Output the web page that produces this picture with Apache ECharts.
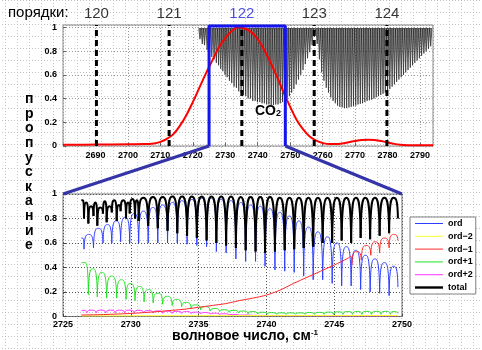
<!DOCTYPE html>
<html><head><meta charset="utf-8">
<script src="https://cdn.jsdelivr.net/npm/echarts/dist/echarts.min.js"></script>
<style>
html,body{margin:0;padding:0;background:#fff;}
#c{width:482px;height:350px;
  background-image:url("data:image/svg+xml,%3Csvg xmlns='http://www.w3.org/2000/svg' width='12' height='12'%3E%3Cg fill='%23c4c4c4'%3E%3Crect x='0' y='0' width='1' height='1'/%3E%3Crect x='3' y='0' width='1' height='1'/%3E%3Crect x='6' y='0' width='1' height='1'/%3E%3Crect x='9' y='0' width='1' height='1'/%3E%3Crect x='0' y='3' width='1' height='1'/%3E%3Crect x='0' y='6' width='1' height='1'/%3E%3Crect x='0' y='9' width='1' height='1'/%3E%3C/g%3E%3C/svg%3E");
  background-position:5px 0;}
</style></head><body><div id="c"></div>
<script>
// ---------- top panel: filter transmission + CO2 absorption ----------
const orderNums = [120, 121, 122, 123, 124];
const orderPos  = [2690.3, 2712.7, 2735.1, 2757.4, 2779.8];
const zoomRange = [2725, 2748.5];

const filterX = [2680, 2690, 2700, 2705, 2708, 2710, 2712, 2714, 2716, 2718, 2720, 2722, 2724, 2726, 2728, 2730, 2732, 2734, 2736, 2738, 2740, 2742, 2744, 2746, 2748, 2750, 2752, 2754, 2756, 2758, 2760, 2762, 2764, 2766, 2768, 2770, 2772, 2774, 2776, 2778, 2780, 2782, 2784, 2786, 2790, 2794];
const filterY = [0.01, 0.012, 0.015, 0.016, 0.022, 0.035, 0.06, 0.1, 0.17, 0.26, 0.37, 0.49, 0.61, 0.72, 0.83, 0.91, 0.97, 1.0, 0.99, 0.96, 0.9, 0.81, 0.7, 0.58, 0.45, 0.33, 0.22, 0.14, 0.08, 0.045, 0.025, 0.016, 0.016, 0.022, 0.032, 0.042, 0.05, 0.053, 0.05, 0.042, 0.03, 0.018, 0.01, 0.007, 0.007, 0.007];

// CO2 line centres and the transmission at each line core
const co2X = [2722.2, 2722.9, 2723.6, 2724.4, 2725.1, 2725.85, 2726.55, 2727.25, 2727.95, 2728.6, 2729.25, 2729.92, 2730.58, 2731.28, 2731.99, 2732.71, 2733.43, 2734.15, 2734.87, 2735.59, 2736.31, 2737.03, 2737.75, 2738.47, 2739.2, 2739.9, 2740.63, 2741.35, 2742.05, 2742.75, 2743.45, 2744.15, 2744.85, 2745.55, 2746.25, 2746.95, 2747.65, 2748.35, 2749.05, 2749.75, 2750.45, 2751.15, 2751.85, 2752.55, 2753.25, 2753.95, 2754.65, 2755.35, 2756.05, 2756.75, 2757.45, 2758.3, 2759.0, 2759.7, 2760.4, 2761.1, 2761.8, 2762.5, 2763.2, 2763.9, 2764.6, 2765.3, 2766.0, 2766.7, 2767.4, 2768.1, 2768.8, 2769.5, 2770.2, 2770.9, 2771.6, 2772.3, 2773.0, 2773.7, 2774.4, 2775.1, 2775.8, 2776.5, 2777.2, 2777.9, 2778.6, 2779.3, 2780.0, 2780.7, 2781.4, 2782.1, 2782.8, 2783.5, 2784.2, 2784.9, 2785.6, 2786.3, 2787.0, 2787.7, 2788.4, 2789.1, 2789.8, 2790.5, 2791.2, 2791.9, 2792.6, 2793.3];
const co2Core = [0.9, 0.86, 0.85, 0.81, 0.79, 0.75, 0.73, 0.7, 0.68, 0.65, 0.63, 0.6, 0.58, 0.55, 0.53, 0.5, 0.49, 0.46, 0.45, 0.43, 0.42, 0.4, 0.4, 0.38, 0.38, 0.37, 0.37, 0.36, 0.36, 0.35, 0.35, 0.345, 0.345, 0.35, 0.35, 0.36, 0.37, 0.38, 0.4, 0.42, 0.45, 0.48, 0.52, 0.56, 0.6, 0.64, 0.69, 0.74, 0.79, 0.85, 0.92, 0.86, 0.73, 0.62, 0.55, 0.49, 0.45, 0.41, 0.38, 0.36, 0.34, 0.33, 0.325, 0.32, 0.32, 0.325, 0.33, 0.335, 0.34, 0.35, 0.355, 0.36, 0.37, 0.38, 0.385, 0.39, 0.4, 0.41, 0.42, 0.43, 0.44, 0.45, 0.46, 0.48, 0.5, 0.52, 0.54, 0.56, 0.58, 0.6, 0.62, 0.64, 0.66, 0.68, 0.7, 0.72, 0.74, 0.76, 0.78, 0.8, 0.82, 0.84];
const co2Continuum = 0.99;

// ---------- bottom panel: per-order transmission ----------
// each series: sample positions (start, line cores, end), values there, arch tops between them
const ordX = [2726.35, 2726.55, 2727.25, 2727.95, 2728.6, 2729.25, 2729.92, 2730.58, 2731.28, 2731.99, 2732.71, 2733.43, 2734.15, 2734.87, 2735.59, 2736.31, 2737.03, 2737.75, 2738.47, 2739.2, 2739.9, 2740.63, 2741.35, 2742.05, 2742.75, 2743.45, 2744.15, 2744.85, 2745.55, 2746.25, 2746.95, 2747.65, 2748.35, 2749.05, 2749.7];
const ordY = [0.64, 0.55, 0.56, 0.6, 0.6, 0.61, 0.6, 0.6, 0.6, 0.6, 0.6, 0.6, 0.59, 0.58, 0.57, 0.53, 0.52, 0.47, 0.45, 0.45, 0.41, 0.38, 0.37, 0.36, 0.33, 0.3, 0.3, 0.27, 0.25, 0.25, 0.22, 0.2, 0.19, 0.17, 0.24];
const ordTop = [0.64, 0.67, 0.72, 0.75, 0.78, 0.81, 0.84, 0.86, 0.89, 0.91, 0.93, 0.945, 0.955, 0.965, 0.965, 0.955, 0.945, 0.93, 0.91, 0.9, 0.88, 0.85, 0.82, 0.78, 0.73, 0.69, 0.65, 0.6, 0.57, 0.54, 0.5, 0.47, 0.44, 0.41];

const totX = [2726.35, 2726.55, 2726.87, 2727.25, 2727.53, 2727.95, 2728.22, 2728.6, 2728.96, 2729.25, 2729.65, 2729.92, 2730.31, 2730.58, 2731.28, 2731.99, 2732.71, 2733.43, 2734.15, 2734.87, 2735.59, 2736.31, 2737.03, 2737.75, 2738.47, 2739.2, 2739.9, 2740.63, 2741.35, 2742.05, 2742.75, 2743.45, 2744.15, 2744.85, 2745.55, 2746.25, 2746.95, 2747.65, 2748.35, 2749.05, 2749.7];
const totY = [0.95, 0.8, 0.76, 0.82, 0.74, 0.84, 0.77, 0.85, 0.78, 0.86, 0.8, 0.84, 0.8, 0.78, 0.74, 0.72, 0.7, 0.68, 0.66, 0.64, 0.62, 0.6, 0.58, 0.56, 0.54, 0.53, 0.52, 0.53, 0.54, 0.55, 0.56, 0.57, 0.6, 0.6, 0.62, 0.6, 0.64, 0.63, 0.66, 0.68, 0.8];
const totTop = [0.95, 0.93, 0.9, 0.93, 0.89, 0.94, 0.9, 0.95, 0.91, 0.95, 0.93, 0.96, 0.95, 0.97, 0.975, 0.975, 0.98, 0.98, 0.98, 0.98, 0.98, 0.98, 0.98, 0.975, 0.975, 0.975, 0.975, 0.97, 0.97, 0.97, 0.97, 0.97, 0.97, 0.97, 0.97, 0.97, 0.97, 0.97, 0.97, 0.97];

const p1X = [2726.35, 2726.87, 2727.53, 2728.22, 2728.96, 2729.65, 2730.31, 2730.98, 2731.65, 2732.35, 2733.05, 2733.75, 2734.45, 2735.15, 2735.85, 2736.55, 2737.25, 2737.95, 2738.65, 2739.35, 2740.05, 2740.75, 2741.45, 2742.15, 2742.85, 2743.55, 2744.25, 2744.95, 2745.65, 2746.35, 2747.05, 2747.75, 2748.45, 2749.15, 2749.7];
const p1Y = [0.44, 0.18, 0.16, 0.15, 0.15, 0.14, 0.13, 0.12, 0.11, 0.1, 0.09, 0.08, 0.065, 0.055, 0.045, 0.04, 0.035, 0.03, 0.022, 0.02, 0.018, 0.018, 0.018, 0.018, 0.018, 0.018, 0.018, 0.018, 0.018, 0.018, 0.018, 0.018, 0.018, 0.018, 0.025];
const p1Top = [0.44, 0.39, 0.36, 0.33, 0.3, 0.27, 0.245, 0.22, 0.19, 0.165, 0.14, 0.115, 0.095, 0.08, 0.065, 0.055, 0.05, 0.045, 0.04, 0.035, 0.032, 0.03, 0.03, 0.03, 0.032, 0.034, 0.036, 0.038, 0.04, 0.04, 0.042, 0.042, 0.042, 0.04];

const p2X = [2726.35, 2726.75, 2727.45, 2728.15, 2728.85, 2729.55, 2730.25, 2730.95, 2731.65, 2732.35, 2733.05, 2733.75, 2734.45, 2735.15, 2735.85, 2736.55, 2737.25, 2738.0, 2739.0, 2740.0, 2742.0, 2744.0, 2746.0, 2748.0, 2749.7];
const p2Y = [0.045, 0.03, 0.03, 0.03, 0.03, 0.03, 0.03, 0.029, 0.028, 0.027, 0.026, 0.025, 0.024, 0.022, 0.019, 0.016, 0.013, 0.01, 0.008, 0.007, 0.006, 0.006, 0.006, 0.006, 0.006];
const p2Top = [0.05, 0.052, 0.052, 0.052, 0.052, 0.052, 0.05, 0.048, 0.046, 0.044, 0.042, 0.04, 0.036, 0.032, 0.027, 0.022, 0.017, 0.012, 0.009, 0.008, 0.007, 0.006, 0.006, 0.006];

const m1SmoothX = [2726.35, 2728, 2730, 2732, 2733, 2734, 2735, 2736, 2737, 2738, 2739, 2740, 2741, 2742, 2743, 2744, 2745, 2746, 2746.2];
const m1SmoothY = [0.012, 0.016, 0.025, 0.04, 0.05, 0.06, 0.075, 0.09, 0.105, 0.13, 0.15, 0.175, 0.215, 0.27, 0.32, 0.37, 0.42, 0.475, 0.49];
const m1X = [2746.2, 2746.3, 2747.0, 2747.7, 2748.35, 2749.05, 2749.7];
const m1Y = [0.49, 0.42, 0.46, 0.5, 0.52, 0.56, 0.62];
const m1Top = [0.49, 0.53, 0.58, 0.61, 0.64, 0.67];

const m2X = [2726.35, 2735, 2749.7];
const m2Y = [0.005, 0.007, 0.008];

const FONT = 'Liberation Sans, Arial, sans-serif';
const C_ORD = '#2b3dff', C_M2 = '#ffff33', C_M1 = '#ff2a2a', C_P1 = '#22e022', C_P2 = '#ff33ff', C_TOT = '#000';

function zipPairs(xs, ys) { return xs.map((x, i) => [x, ys[i]]); }
function archItems(xs, ys, tops) {
  const out = [];
  for (let i = 0; i < xs.length - 1; i++) out.push([xs[i], ys[i], tops[i], xs[i + 1], ys[i + 1]]);
  return out;
}
// one arch between two line cores: steep walls, rounded top
function renderArch(params, api) {
  const a = api.coord([api.value(0), api.value(1)]);
  const b = api.coord([api.value(3), api.value(4)]);
  const t = api.coord([api.value(0), api.value(2)])[1];
  const w = b[0] - a[0], xm = (a[0] + b[0]) / 2;
  const d = 'M' + a[0] + ',' + a[1] +
    ' C' + (a[0] + 0.04 * w) + ',' + t + ' ' + (xm - 0.22 * w) + ',' + t + ' ' + xm + ',' + t +
    ' C' + (xm + 0.22 * w) + ',' + t + ' ' + (b[0] - 0.04 * w) + ',' + t + ' ' + b[0] + ',' + b[1];
  return { type: 'path', shape: { pathData: d },
    style: { stroke: api.visual('color'), fill: 'none', lineWidth: params.seriesName === 'total' ? 2 : 1 } };
}
// one CO2 absorption line drawn as a narrow V hanging from the continuum
function renderLine(params, api) {
  const c = api.value(0), d = api.value(1);
  const pts = [api.coord([c - 0.36, co2Continuum]), api.coord([c, d]), api.coord([c + 0.36, co2Continuum])];
  return { type: 'polygon', shape: { points: pts },
    style: { stroke: '#111', lineWidth: 0.6, fill: 'rgba(70,70,70,0.6)' } };
}

const axisLbl = { color: '#000', fontFamily: FONT, fontWeight: 'bold', fontSize: 9, formatter: v => String(+v.toFixed(2)) };
const dotted = (c) => ({ show: true, lineStyle: { color: c, type: [1, 2], width: 1 } });

const orderLineData = [];
orderPos.forEach(x => { orderLineData.push([x, 0], [x, 1.02], '-'); });

const chart = echarts.init(document.getElementById('c'), null, { renderer: 'canvas' });
chart.setOption({
  animation: false,
  backgroundColor: 'transparent',
  grid: [
    { left: 63, top: 25, width: 370, height: 121, show: true, borderColor: '#8c8c8c', borderWidth: 1, backgroundColor: 'transparent' },
    { left: 63, top: 194, width: 339, height: 122.5, show: true, borderColor: '#7a7a7a', borderWidth: 1, backgroundColor: 'transparent' }
  ],
  xAxis: [
    { type: 'value', gridIndex: 0, min: 2680, max: 2794, interval: 10,
      axisLine: { show: false }, axisTick: { inside: true, length: 3, lineStyle: { color: '#666' } },
      axisLabel: Object.assign({}, axisLbl, { margin: 5, showMinLabel: false, showMaxLabel: false }),
      splitLine: dotted('#9a9a9a') },
    { type: 'value', gridIndex: 1, min: 2725, max: 2750, interval: 5,
      axisLine: { show: false }, axisTick: { inside: true, length: 3, lineStyle: { color: '#444' } },
      axisLabel: Object.assign({}, axisLbl, { margin: 4 }),
      splitLine: dotted('#555') }
  ],
  yAxis: [
    { type: 'value', gridIndex: 0, min: 0, max: 1.02, interval: 0.2,
      axisLine: { show: false }, axisTick: { inside: true, length: 3, lineStyle: { color: '#666' } },
      axisLabel: Object.assign({}, axisLbl, { margin: 6, showMaxLabel: false }),
      splitLine: dotted('#9a9a9a') },
    { type: 'value', gridIndex: 1, min: 0, max: 1, interval: 0.2,
      axisLine: { show: false }, axisTick: { inside: true, length: 3, lineStyle: { color: '#444' } },
      axisLabel: Object.assign({}, axisLbl, { margin: 6 }),
      splitLine: dotted('#555') }
  ],
  legend: {
    orient: 'vertical', left: 410, top: 217, padding: [1, 3, 1, 5],
    itemWidth: 28, itemHeight: 10, itemGap: 1.8,
    backgroundColor: '#fff', borderColor: '#808080', borderWidth: 1,
    textStyle: { fontFamily: FONT, fontWeight: 'bold', fontSize: 9, color: '#000', lineHeight: 11 },
    data: [
      { name: 'ord', icon: 'path://M0,0H28V1H0Z' },
      { name: 'ord−2', icon: 'path://M0,0H28V1H0Z' },
      { name: 'ord−1', icon: 'path://M0,0H28V1H0Z' },
      { name: 'ord+1', icon: 'path://M0,0H28V1H0Z' },
      { name: 'ord+2', icon: 'path://M0,0H28V1H0Z' },
      { name: 'total', icon: 'path://M0,0H28V2.4H0Z' }
    ]
  },
  series: [
    // top panel
    { type: 'custom', xAxisIndex: 0, yAxisIndex: 0, renderItem: renderLine, data: zipPairs(co2X, co2Core), z: 2, silent: true },
    { type: 'line', xAxisIndex: 0, yAxisIndex: 0, data: zipPairs(filterX, filterY), smooth: 0.4, showSymbol: false,
      lineStyle: { color: '#ff0000', width: 2 }, z: 3 },
    { type: 'line', xAxisIndex: 0, yAxisIndex: 0, data: orderLineData, showSymbol: false, connectNulls: false,
      lineStyle: { color: '#000', width: 3, type: [6, 4] }, z: 4 },
    { type: 'scatter', xAxisIndex: 0, yAxisIndex: 0, symbolSize: 1, itemStyle: { color: 'rgba(0,0,0,0)' },
      data: orderPos.map((x, i) => ({ value: [x, 1.02],
        label: { show: true, position: 'top', distance: 3, formatter: String(orderNums[i]),
          color: orderNums[i] === 122 ? '#2222dd' : '#000', fontFamily: FONT, fontSize: 15 } })), z: 5 },
    { type: 'line', xAxisIndex: 0, yAxisIndex: 0, showSymbol: false,
      data: [[zoomRange[0], 0], [zoomRange[0], 1.011], [zoomRange[1], 1.011], [zoomRange[1], 0]],
      lineStyle: { color: '#1414f0', width: 3 }, z: 6 },
    // bottom panel
    { name: 'ord', type: 'custom', xAxisIndex: 1, yAxisIndex: 1, renderItem: renderArch,
      itemStyle: { color: C_ORD }, data: archItems(ordX, ordY, ordTop), z: 3 },
    { name: 'ord−2', type: 'line', xAxisIndex: 1, yAxisIndex: 1, showSymbol: false,
      itemStyle: { color: C_M2 }, lineStyle: { color: C_M2, width: 1 }, data: zipPairs(m2X, m2Y), z: 3 },
    { name: 'ord−1', type: 'line', xAxisIndex: 1, yAxisIndex: 1, showSymbol: false, smooth: 0.3,
      itemStyle: { color: C_M1 }, lineStyle: { color: C_M1, width: 1 }, data: zipPairs(m1SmoothX, m1SmoothY), z: 3 },
    { name: 'ord−1', type: 'custom', xAxisIndex: 1, yAxisIndex: 1, renderItem: renderArch,
      itemStyle: { color: C_M1 }, data: archItems(m1X, m1Y, m1Top), z: 3 },
    { name: 'ord+1', type: 'custom', xAxisIndex: 1, yAxisIndex: 1, renderItem: renderArch,
      itemStyle: { color: C_P1 }, data: archItems(p1X, p1Y, p1Top), z: 3 },
    { name: 'ord+2', type: 'custom', xAxisIndex: 1, yAxisIndex: 1, renderItem: renderArch,
      itemStyle: { color: C_P2 }, data: archItems(p2X, p2Y, p2Top), z: 3 },
    { name: 'total', type: 'custom', xAxisIndex: 1, yAxisIndex: 1, renderItem: renderArch,
      itemStyle: { color: C_TOT }, data: archItems(totX, totY, totTop), z: 4 }
  ]
});

// static texts and the zoom connectors (through the axes' own scales)
const a0 = chart.convertToPixel({ xAxisIndex: 0, yAxisIndex: 0 }, [zoomRange[0], 0]);
const a1 = chart.convertToPixel({ xAxisIndex: 0, yAxisIndex: 0 }, [zoomRange[1], 0]);
const b0 = chart.convertToPixel({ xAxisIndex: 1, yAxisIndex: 1 }, [2725, 1]);
const b1 = chart.convertToPixel({ xAxisIndex: 1, yAxisIndex: 1 }, [2750, 1]);
chart.setOption({
  graphic: [
    { type: 'line', shape: { x1: a0[0], y1: a0[1], x2: b0[0], y2: b0[1] }, style: { stroke: '#3434a8', lineWidth: 3 }, z: 50 },
    { type: 'line', shape: { x1: a1[0], y1: a1[1], x2: b1[0], y2: b1[1] }, style: { stroke: '#3434a8', lineWidth: 3 }, z: 50 },
    { type: 'text', left: 8, top: 5, style: { text: 'порядки:', font: '15px ' + FONT, fill: '#000' } },
    { type: 'text', left: 25, top: 92, style: { text: 'п\nр\nо\nп\nу\nс\nк\nа\nн\nи\nе', font: 'bold 14px ' + FONT,
      fill: '#000', lineHeight: 14.6, align: 'center' } },
    { type: 'text', left: 255, top: 104, style: { text: '{a|CO}{b|2}', rich: {
      a: { font: 'bold 14px ' + FONT, fill: '#000' }, b: { font: 'bold 9px ' + FONT, fill: '#000', padding: [6, 0, 0, 0] } } } },
    { type: 'text', left: 172, top: 329, style: { text: '{a|волновое число, см}{s|-1}', rich: {
      a: { font: 'bold 14px ' + FONT, fill: '#000' },
      s: { font: 'bold 8px ' + FONT, fill: '#000', verticalAlign: 'top', padding: [0, 0, 6, 0] } } } }
  ]
});
</script></body></html>
